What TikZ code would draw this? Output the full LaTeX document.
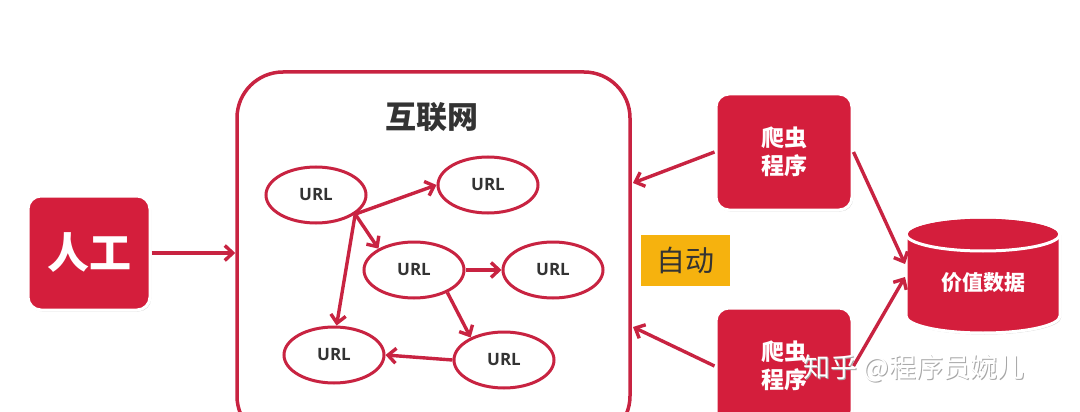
\documentclass[tikz,border=0pt]{standalone}
\usepackage{fontspec}
\setmainfont{Open Sans}
\newfontfamily\cjk{Noto Sans CJK SC}
\usetikzlibrary{arrows.meta,shapes.geometric,shadows}
\definecolor{crim}{RGB}{212,30,60}
\definecolor{bord}{RGB}{200,35,65}
\definecolor{gold}{RGB}{246,178,14}
\definecolor{txt}{RGB}{51,51,51}
\begin{document}
\begin{tikzpicture}[x=1pt,y=-1pt,
  shad/.style={drop shadow={opacity=0.35,shadow xshift=1.2pt,shadow yshift=-1.5pt}},
  redbox/.style={rectangle, rounded corners=13pt, fill=crim, draw=white, line width=3pt, shad, text=white, font=\cjk\bfseries, align=center},
  urlnode/.style={ellipse, draw=bord, line width=3pt, fill=white, minimum width=100pt, minimum height=56pt, inner sep=0pt, font=\bfseries\fontsize{17}{17}\selectfont, text=txt, drop shadow={opacity=0.25,shadow xshift=0.8pt,shadow yshift=-0.8pt}},
  arr/.style={draw=bord, line width=3.4pt, -{Straight Barb[length=8pt,width=15pt]}}
]
\useasboundingbox (0,0) rectangle (1080,412);
\clip (0,0) rectangle (1080,412);
\fill[white] (0,0) rectangle (1080,412);

% big internet box
\node[rectangle, rounded corners=46pt, draw=bord, line width=3.5pt, fill=white, minimum width=393pt, minimum height=370pt, drop shadow={opacity=0.3,shadow xshift=1pt,shadow yshift=-1pt}] (net) at (433.5,257) {};
\node[font=\cjk\bfseries\fontsize{31}{31}\selectfont, text=txt] (title) at (432,117) {互联网};

% URL nodes
\node[urlnode] (e1) at (316,195) {URL};
\node[urlnode] (e2) at (488,185) {URL};
\node[urlnode] (e3) at (414,270) {URL};
\node[urlnode] (e4) at (553,270) {URL};
\node[urlnode] (e5) at (334,355) {URL};
\node[urlnode] (e6) at (504,360) {URL};

\draw[arr] (e1.-26) -- (e2.180);
\draw[arr] (e1.-26) -- (e3.149);
\draw[arr] (e1.-26) -- (e5.85);
\draw[arr] (e3.east) -- (e4.west);
\draw[arr] (e3.-34) -- (e6.146);
\draw[arr] (e6.west) -- (e5.east);

% human
\node[redbox, minimum width=122pt, minimum height=114pt, font=\cjk\bfseries\fontsize{42}{42}\selectfont] (human) at (89,253) {人工};
\draw[arr] (human.east) -- (human.east -| net.west);

% crawlers
\node[redbox, minimum width=136pt, minimum height=116pt, font=\cjk\bfseries\fontsize{23}{28}\selectfont] (c1) at (784,152) {爬虫\\程序};
\node[redbox, minimum width=136pt, minimum height=116pt, font=\cjk\bfseries\fontsize{23}{28}\selectfont] (c2) at (784,366) {爬虫\\程序};

\coordinate (n1) at (633,183);
\coordinate (n2) at (633,327);
\draw[arr] (c1.west) -- (n1);
\draw[arr] (c2.west) -- (n2);

% auto label
\node[fill=gold, minimum width=89pt, minimum height=51pt, inner sep=0pt, font=\cjk\fontsize{29}{29}\selectfont, text=txt] (auto) at (685.5,260.5) {自动};

% cylinder
\path[fill=crim, draw=white, line width=3pt, shad] (906,234) -- (906,316) arc[start angle=180,end angle=0,x radius=77,y radius=17] -- (1060,234) arc[start angle=0,end angle=-180,x radius=77,y radius=17] -- cycle;
\draw[white, line width=3pt] (983,234) ellipse[x radius=77,y radius=17];
\node[text=white, font=\cjk\bfseries\fontsize{21}{21}\selectfont] (data) at (983,283) {价值数据};
\coordinate (d1) at (905,264);
\coordinate (d2) at (905,277);
\draw[arr] (c1.east) -- (d1);
\draw[arr] (c2.east) -- (d2);

% watermark
\node[text=gray!70, font=\cjk\fontsize{27}{27}\selectfont, anchor=west] (wms) at (801.2,369.2) {知乎 @程序员婉儿};
\node[text=white, font=\cjk\fontsize{27}{27}\selectfont, anchor=west] (wm) at (800,368) {知乎 @程序员婉儿};
\end{tikzpicture}
\end{document}
